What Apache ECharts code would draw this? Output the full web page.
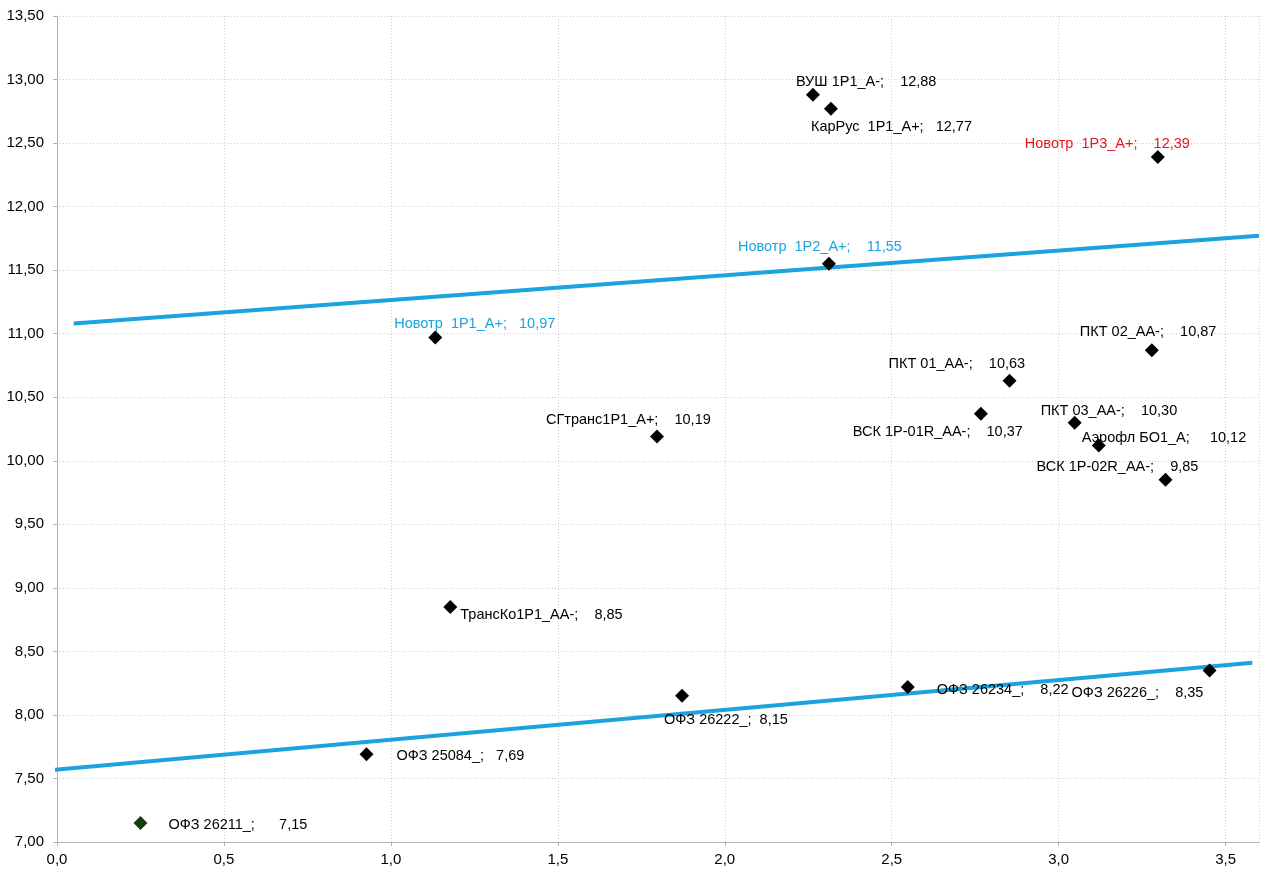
<!DOCTYPE html>
<html><head><meta charset="utf-8">
<script src="https://cdn.jsdelivr.net/npm/echarts@6/dist/echarts.min.js"></script>
<style>html,body{margin:0;padding:0;background:#fff}#c{width:1272px;height:872px}</style>
</head><body><div id="c"></div>
<script>
const names = ['ОФЗ 26211_','ОФЗ 25084_','Новотр  1Р1_А+','ТрансКо1Р1_АА-','СГтранс1Р1_А+','ОФЗ 26222_','ВУШ 1Р1_А-','КарРус  1Р1_А+','Новотр  1Р2_А+','ОФЗ 26234_','ВСК 1Р-01R_АА-','ПКТ 01_АА-','ПКТ 03_АА-','Аэрофл БО1_А','ПКТ 02_АА-','Новотр  1Р3_А+','ВСК 1Р-02R_АА-','ОФЗ 26226_'];
const xVals = [0.25,0.927,1.133,1.178,1.797,1.872,2.264,2.318,2.312,2.548,2.767,2.853,3.048,3.12,3.279,3.297,3.32,3.452];
const yVals = [7.15,7.69,10.97,8.85,10.19,8.15,12.88,12.77,11.55,8.22,10.37,10.63,10.30,10.12,10.87,12.39,9.85,8.35];
const trendUpper = [[0.05,11.08],[3.6,11.77]];
const trendLower = [[-0.04,7.56],[3.58,8.41]];
const xTicks = {min:0, max:3.6, interval:0.5};
const yTicks = {min:7, max:13.5, interval:0.5};

// label placement (style only): [dx, dy] from marker centre to label left/middle
const labelOffsets = [[28,2],[30,2],[-41,-14],[10,8],[-111,-17],[-18,24],[-17,-13],[-20,18],[-91,-17],[29,3],[-128,18],[-121,-17],[-34,-12],[-17,-8],[-72,-18],[-133,-13],[-129,-13],[-138,23]];
const labelGaps = [6,3,3,4,4,2,4,3,4,4,4,4,4,5,4,4,4,4];
const labelColors = {2:'#1aa3de',8:'#1aa3de',15:'#e8141c'};
const markerColors = {0:'#173d0e'};
const SYM = 14;

const fmt = v => v.toFixed(2).replace('.', ',');
const pts = names.map((n,i)=>({
  value:[xVals[i], yVals[i]],
  name:n,
  itemStyle:{color: markerColors[i] || '#000', opacity:1},
  label:{show:true, position:[labelOffsets[i][0]+SYM/2, labelOffsets[i][1]+SYM/2],
    align:'left', verticalAlign:'middle',
    color: labelColors[i] || '#000',
    fontSize:14.5, fontFamily:'Liberation Sans, Arial, sans-serif',
    formatter: n + ';' + ' '.repeat(labelGaps[i]) + fmt(yVals[i])}
}));

const chart = echarts.init(document.getElementById('c'));
chart.setOption({
  animation:false,
  backgroundColor:'#fff',
  grid:{left:57, right:13, top:16, bottom:30, containLabel:false},
  xAxis:{type:'value', min:xTicks.min, max:xTicks.max, interval:xTicks.interval,
    axisLine:{show:true, onZero:false, lineStyle:{color:'#b3b3b3', width:1}},
    axisTick:{show:true, length:4, lineStyle:{color:'#b3b3b3'}},
    axisLabel:{color:'#000', fontSize:15, fontFamily:'Liberation Sans, Arial, sans-serif', margin:10,
      showMaxLabel:false,
      formatter:v=> (Math.abs(v*2-Math.round(v*2))<1e-6) ? v.toFixed(1).replace('.',',') : ''},
    splitLine:{show:true, lineStyle:{color:'#cfcfcf', type:[1,2], width:1}}},
  yAxis:{type:'value', min:yTicks.min, max:yTicks.max, interval:yTicks.interval,
    axisLine:{show:true, onZero:false, lineStyle:{color:'#b3b3b3', width:1}},
    axisTick:{show:true, length:4, lineStyle:{color:'#b3b3b3'}},
    axisLabel:{color:'#000', fontSize:15, fontFamily:'Liberation Sans, Arial, sans-serif', margin:13,
      formatter:v=>fmt(v)},
    splitLine:{show:true, lineStyle:{color:'#cfcfcf', type:[1,2], width:1}}},
  series:[
    {type:'line', data:trendUpper, symbol:'none', clip:false, silent:true,
      lineStyle:{color:'#1aa3de', width:4}, z:2},
    {type:'line', data:trendLower, symbol:'none', clip:false, silent:true,
      lineStyle:{color:'#1aa3de', width:4}, z:2},
    {type:'scatter', data:pts, symbol:'diamond', symbolSize:SYM, z:3}
  ]
});
</script></body></html>
